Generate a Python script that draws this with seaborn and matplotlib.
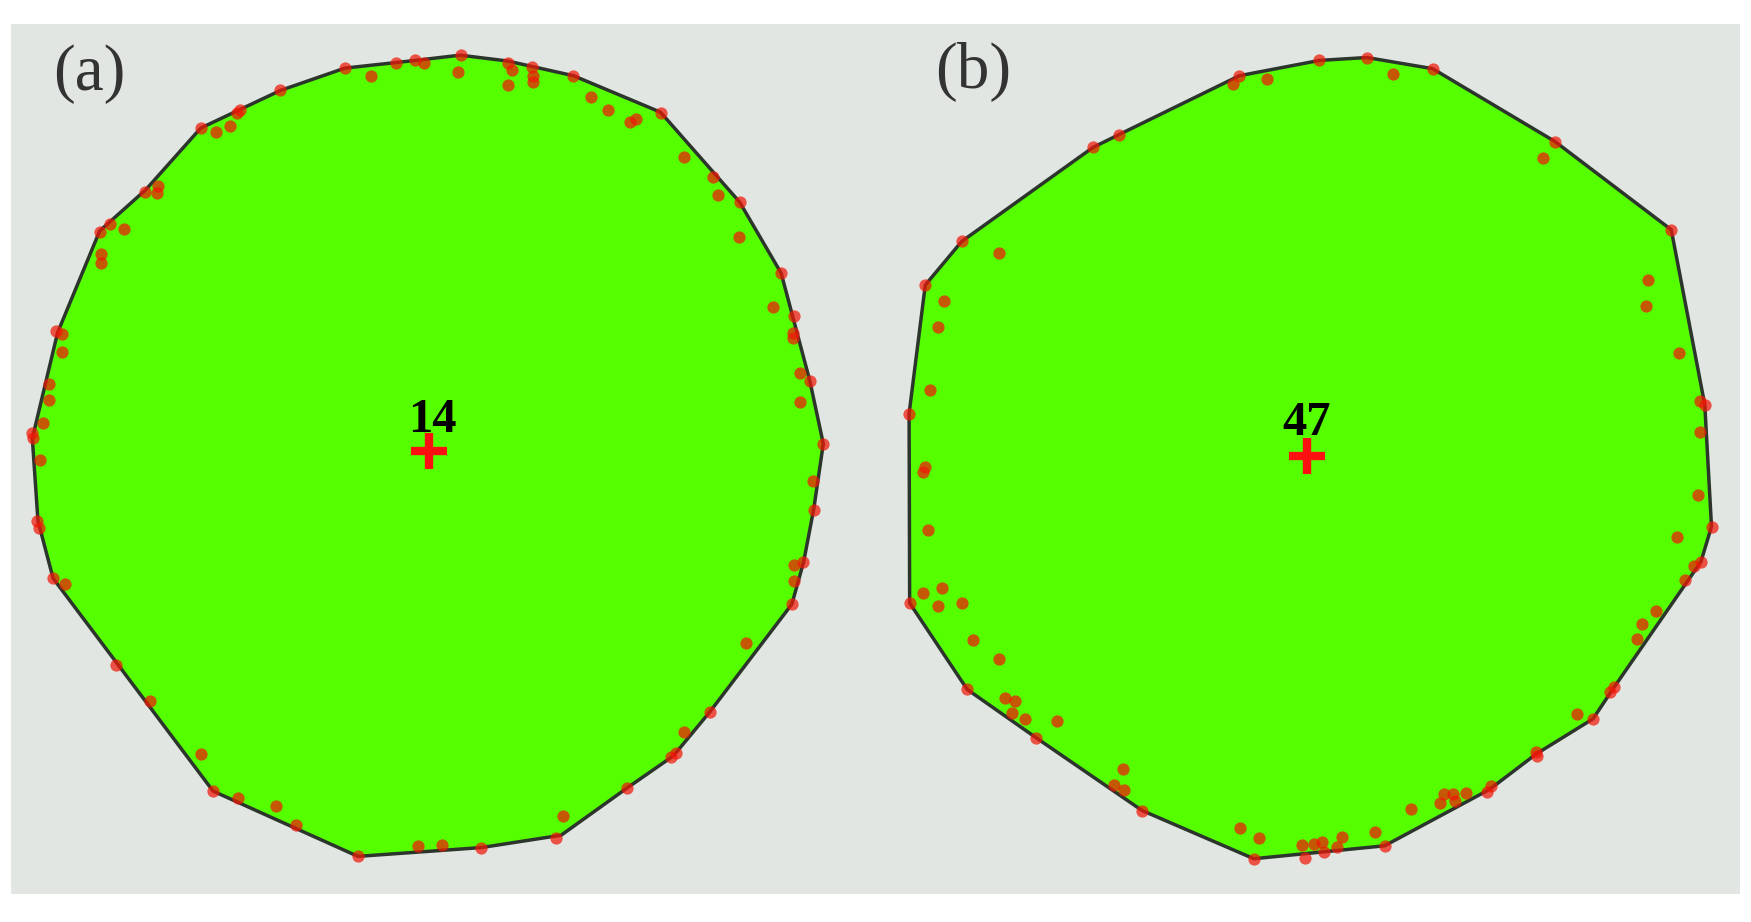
import matplotlib
matplotlib.use("Agg")
import matplotlib.pyplot as plt
import seaborn as sns

# outlines and points (one unit system per panel)
hull_a_x = [820, 905, 1022, 1177, 1318, 1392, 1443, 1467, 1450, 1432, 1411, 1265, 1200, 1117, 1000, 858, 638, 380, 95, 68, 58, 103, 178, 260, 358, 500, 615, 740]
hull_a_y = [93, 103, 128, 190, 343, 464, 647, 754, 865, 955, 1027, 1210, 1285, 1340, 1420, 1441, 1456, 1345, 983, 885, 745, 565, 392, 322, 217, 153, 115, 102]
pts_a_x = [821, 905, 948, 1022, 1177, 1270, 1318, 1392, 1415, 1413, 1413, 1443, 1467, 1448, 1450, 1430, 1415, 1414, 1411, 1330, 1265, 1218, 1205, 1195, 1117, 1003, 990, 858, 788, 745, 638, 527, 492, 425, 380, 358, 268, 207, 116, 95, 70, 67, 71, 60, 58, 77, 87, 87, 110, 110, 100, 180, 180, 222, 197, 178, 282, 280, 258, 358, 386, 410, 428, 422, 500, 615, 662, 705, 740, 755, 817, 912, 905, 950, 950, 1054, 1083, 1122, 1134, 1218, 1280, 1317, 1378, 1425, 1425]
pts_a_y = [93, 106, 114, 128, 191, 300, 343, 464, 536, 565, 575, 647, 754, 817, 866, 955, 960, 987, 1027, 1093, 1211, 1245, 1280, 1287, 1340, 1388, 1425, 1441, 1437, 1438, 1456, 1402, 1370, 1357, 1345, 1281, 1192, 1130, 992, 983, 897, 885, 781, 745, 735, 718, 679, 652, 598, 567, 563, 447, 432, 389, 381, 393, 316, 327, 325, 217, 224, 214, 187, 192, 153, 115, 129, 106, 101, 107, 121, 119, 143, 128, 139, 165, 187, 206, 201, 267, 331, 402, 522, 634, 683]

hull_b_x = [880, 998, 1217, 1425, 1485, 1497, 1478, 1320, 1285, 1183, 1100, 912, 678, 478, 288, 165, 62, 61, 90, 155, 390, 437, 652, 795]
hull_b_y = [97, 116, 240, 390, 688, 895, 955, 1172, 1222, 1282, 1342, 1438, 1460, 1378, 1254, 1172, 1025, 703, 484, 410, 250, 228, 128, 102]
pts_b_x = [880, 795, 652, 640, 701, 927, 998, 1217, 1195, 1425, 1383, 1379, 1439, 1477, 1486, 1477, 1472, 1497, 1435, 1478, 1465, 1449, 1397, 1373, 1364, 1323, 1315, 1285, 1256, 1183, 1185, 1103, 1095, 1057, 1035, 1038, 1018, 1012, 960, 895, 912, 835, 826, 800, 803, 785, 765, 770, 678, 687, 654, 478, 444, 427, 445, 288, 325, 268, 245, 250, 232, 222, 175, 165, 155, 113, 120, 86, 62, 95, 90, 86, 99, 61, 113, 123, 90, 155, 222, 390, 437]
pts_b_y = [97, 102, 128, 142, 134, 125, 116, 241, 268, 390, 475, 519, 600, 681, 688, 734, 842, 895, 913, 955, 962, 985, 1038, 1061, 1087, 1168, 1176, 1222, 1213, 1278, 1286, 1337, 1347, 1349, 1350, 1362, 1350, 1365, 1375, 1415, 1438, 1423, 1440, 1432, 1448, 1435, 1436, 1458, 1460, 1424, 1407, 1378, 1307, 1335, 1343, 1254, 1226, 1222, 1212, 1192, 1186, 1120, 1088, 1172, 1025, 1030, 1000, 1008, 1025, 900, 793, 802, 662, 703, 555, 511, 484, 410, 430, 250, 228]

center_a = (765, 767)
center_b = (773, 775)

sns.set_theme(style="white")
W, H = 1751, 922
fig = plt.figure(figsize=(W / 100, H / 100), dpi=100, facecolor="white")

GRAY = "#e2e6e2"
GREEN = "#55ff00"


def panel(left, right, xlim, hx, hy, px, py, center, number, number_pos, tag, tag_pos):
    ax = fig.add_axes([left / W, 1 - 894 / H, (right - left) / W, (894 - 24) / H])
    ax.set_facecolor(GRAY)
    ax.fill(hx, hy, facecolor=GREEN, edgecolor="#2c352c", linewidth=2.5, zorder=1)
    sns.scatterplot(x=px, y=py, ax=ax, color="#f01808", s=78, alpha=0.72, linewidth=0, legend=False, zorder=3)
    sns.scatterplot(x=[center[0]], y=[center[1]], ax=ax, color="#ff1010", marker="+", s=680, linewidth=6, legend=False, zorder=4)
    ax.text(*number_pos, number, ha="center", va="center", fontsize=35, fontweight="bold", family="Liberation Serif", color="black", zorder=5)
    ax.text(*tag_pos, tag, ha="left", va="center", fontsize=47, family="Liberation Serif", color="#333333")
    ax.set_xlim(*xlim)
    ax.set_ylim(1520, 40)
    ax.set_xticks([])
    ax.set_yticks([])
    ax.set(xlabel=None, ylabel=None)
    sns.despine(ax=ax, left=True, bottom=True)


panel(11, 880, (20, 1568), hull_a_x, hull_a_y, pts_a_x, pts_a_y, center_a, "14", (770, 714), "(a)", (95, 125))
panel(875, 1740, (0, 1548), hull_b_x, hull_b_y, pts_b_x, pts_b_y, center_b, "47", (773, 719), "(b)", (108, 122))

fig.savefig("out.png", dpi=100)
